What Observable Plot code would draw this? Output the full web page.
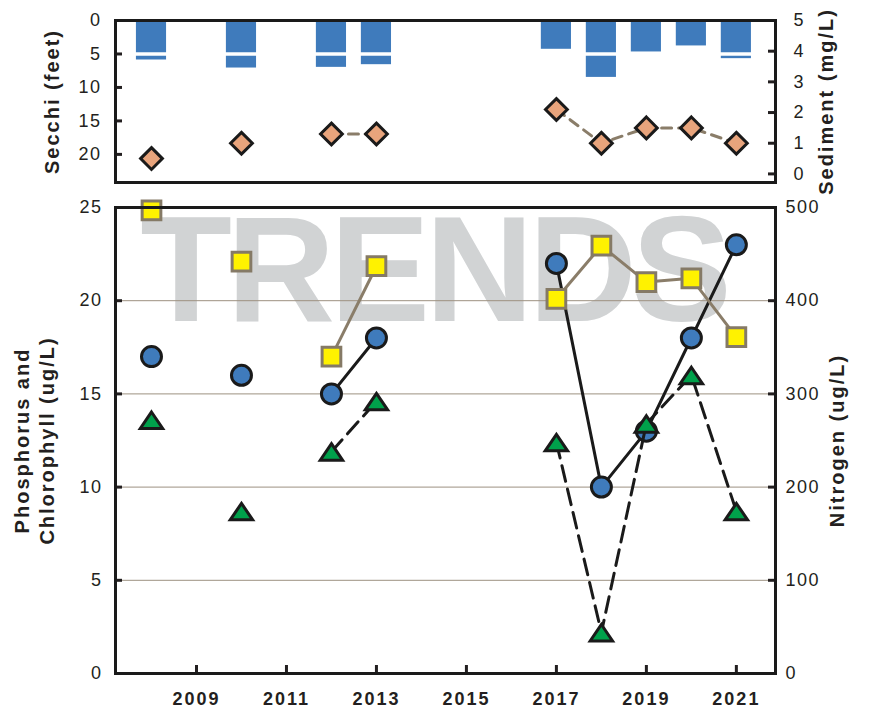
<!DOCTYPE html>
<html><head><meta charset="utf-8">
<script src="https://cdn.jsdelivr.net/npm/d3@7"></script>
<script src="https://cdn.jsdelivr.net/npm/@observablehq/plot@0.6"></script>
<style>
html,body{margin:0;padding:0;background:#fff;}
#chart{width:873px;}
#chart svg{display:block;}
g[aria-label="y-axis tick label"] text{letter-spacing:1.5px;}
g[aria-label="x-axis tick label"] text{letter-spacing:2px;}
g[aria-label="text"] text{letter-spacing:2px;}
</style></head><body><div id="chart"></div>
<script>
// ---- data ----
const years          = [2008, 2010, 2012, 2013, 2017, 2018, 2019, 2020, 2021];
const secchiFeet     = [5.9, 7.1, 7.0, 6.6, 4.3, 8.5, 4.7, 3.8, 5.7];
const sedimentMgL    = [0.5, 1.0, 1.3, 1.3, 2.1, 1.0, 1.5, 1.5, 1.0];
const phosphorusUgL  = [17, 16, 15, 18, 22, 10, 13, 18, 23];
const chlorophyllUgL = [13.6, 8.7, 11.9, 14.6, 12.4, 2.2, 13.4, 16.0, 8.7];
const nitrogenUgL    = [497, 442, 340, 437, 402, 459, 420, 424, 361];
const xTicks         = [2009, 2011, 2013, 2015, 2017, 2019, 2021];
const secchiTicks    = [0, 5, 10, 15, 20];
const sedimentTicks  = [0, 1, 2, 3, 4, 5];
const pcTicks        = [0, 5, 10, 15, 20, 25];
const nitrogenTicks  = [0, 100, 200, 300, 400, 500];
const pcGrid         = [5, 10, 15, 20];

// ---- table ----
let run = 0;
const rows = years.map((year, i) => {
  if (i > 0 && year - years[i - 1] > 1) run++;
  return {year, run, secchi: secchiFeet[i], sediment: sedimentMgL[i],
    phos: phosphorusUgL[i], chl: chlorophyllUgL[i], nitro: nitrogenUgL[i]};
});

const FONT = "Liberation Sans, Arial, Helvetica, sans-serif";
const INK = "#231f20";
const xDomain = [2007.2, 2021.87];
const W = 873, ML = 115, MR = 98;

// secondary-axis mappings onto primary scales
const secchiDomain = [0, 24.2];
const sedToSecchi = d3.scaleLinear([-0.28, 5], [24.2, 0]);
const nitroToPC = d3.scaleLinear([0, 500], [0, 25]);

// custom marker symbols
const sym = f => ({draw(c, size) { const r = Math.sqrt(size / Math.PI); f(c, r); }});
const squareSym = sym((c, r) => { const h = 0.935 * r; c.moveTo(-h, -h); c.lineTo(h, -h); c.lineTo(h, h); c.lineTo(-h, h); c.closePath(); });
const diamondSym = sym((c, r) => { const h = 1.09 * r; c.moveTo(0, -h); c.lineTo(h, 0); c.lineTo(0, h); c.lineTo(-h, 0); c.closePath(); });
const triSym = sym((c, r) => { c.moveTo(0, -0.8 * r); c.lineTo(1.12 * r, 0.85 * r); c.lineTo(-1.12 * r, 0.85 * r); c.closePath(); });

const titleOpts = {text: d => d, rotate: -90, textAnchor: "middle", lineAnchor: "middle", fontSize: 20, fontWeight: "bold", fill: INK};

// ---- top panel: Secchi bars + sediment ----
const topPanel = Plot.plot({
  width: W, height: 190,
  marginLeft: ML, marginRight: MR, marginTop: 20, marginBottom: 8,
  style: {fontFamily: FONT, fontSize: "18px", color: INK, background: "#fff", overflow: "visible"},
  x: {domain: xDomain, axis: null},
  y: {domain: secchiDomain, reverse: true},
  marks: [
    Plot.rectY(rows, {x1: d => d.year - 0.335, x2: d => d.year + 0.335, y1: 0, y2: "secchi", fill: "#3f7bbc"}),
    Plot.ruleY(secchiTicks.slice(1), {stroke: "#fff", strokeWidth: 3.5}),
    Plot.line(rows, {x: "year", y: d => sedToSecchi(d.sediment), z: "run", stroke: "#8a7d69", strokeWidth: 3, strokeDasharray: "10,7"}),
    Plot.dot(rows, {x: "year", y: d => sedToSecchi(d.sediment), symbol: diamondSym, r: 10, fill: "#e8a47c", stroke: "#1a1a1a", strokeWidth: 3}),
    Plot.axisY(secchiTicks, {anchor: "left", label: null, tickSize: 7, dx: 7, tickPadding: 14, strokeWidth: 3, fontSize: 18, color: INK}),
    Plot.axisY(sedimentTicks, {anchor: "right", y: sedToSecchi, tickFormat: d => String(d), label: null, tickSize: 8, dx: -8, tickPadding: 18, strokeWidth: 3, fontSize: 18, color: INK}),
    Plot.frame({stroke: "#1a1a1a", strokeWidth: 3}),
    Plot.text(["Secchi (feet)"], {...titleOpts, frameAnchor: "left", dx: -63}),
    Plot.text(["Sediment (mg/L)"], {...titleOpts, frameAnchor: "right", dx: 51})
  ]
});

// ---- bottom panel: phosphorus, chlorophyll, nitrogen ----
const bottomPanel = Plot.plot({
  width: W, height: 518,
  marginLeft: ML, marginRight: MR, marginTop: 17, marginBottom: 35,
  style: {fontFamily: FONT, fontSize: "18px", color: INK, background: "#fff", overflow: "visible"},
  x: {domain: xDomain},
  y: {domain: [0, 25]},
  marks: [
    Plot.text(["TRENDS"], {text: d => d, frameAnchor: "top", textAnchor: "middle", dx: -12, dy: 113, lineAnchor: "bottom", fontSize: 150, fontWeight: "bold", fill: "#d1d3d4"}),
    Plot.ruleY(pcGrid, {stroke: "#9d9181", strokeWidth: 1}),
    Plot.line(rows, {x: "year", y: "phos", z: "run", stroke: "#1a1a1a", strokeWidth: 3}),
    Plot.dot(rows, {x: "year", y: "phos", symbol: "circle", r: 10, fill: "#3f7bbc", stroke: "#1a1a1a", strokeWidth: 3}),
    Plot.line(rows, {x: "year", y: "chl", z: "run", stroke: "#1a1a1a", strokeWidth: 3, strokeDasharray: "16,8"}),
    Plot.dot(rows, {x: "year", y: "chl", symbol: triSym, r: 10, fill: "#00a14b", stroke: "#1a1a1a", strokeWidth: 3}),
    Plot.line(rows, {x: "year", y: d => nitroToPC(d.nitro), z: "run", stroke: "#8a7d69", strokeWidth: 3}),
    Plot.dot(rows, {x: "year", y: d => nitroToPC(d.nitro), symbol: squareSym, r: 10, fill: "#fff200", stroke: "#857a66", strokeWidth: 3}),
    Plot.axisY(pcTicks, {anchor: "left", label: null, tickSize: 7, dx: 7, tickPadding: 13, strokeWidth: 3, fontSize: 18, color: INK}),
    Plot.axisY(nitrogenTicks, {anchor: "right", y: nitroToPC, tickFormat: d => String(d), label: null, tickSize: 8, dx: -8, tickPadding: 10, strokeWidth: 3, fontSize: 18, color: INK}),
    Plot.axisX(xTicks, {anchor: "bottom", label: null, tickFormat: d => String(d), tickSize: 8, dy: -8, tickPadding: 19, strokeWidth: 3, fontSize: 18, fontWeight: "bold", color: INK}),
    Plot.frame({stroke: "#1a1a1a", strokeWidth: 3}),
    Plot.text(["Phosphorus and\nChlorophyll (ug/L)"], {...titleOpts, frameAnchor: "left", dx: -82, lineHeight: 1.25}),
    Plot.text(["Nitrogen (ug/L)"], {...titleOpts, frameAnchor: "right", dx: 62})
  ]
});

d3.select(bottomPanel).selectAll("text").filter(function() { return this.textContent === "TRENDS"; })
  .style("letter-spacing", "-5px");

const host = document.getElementById("chart");
host.appendChild(topPanel);
host.appendChild(bottomPanel);
</script></body></html>
